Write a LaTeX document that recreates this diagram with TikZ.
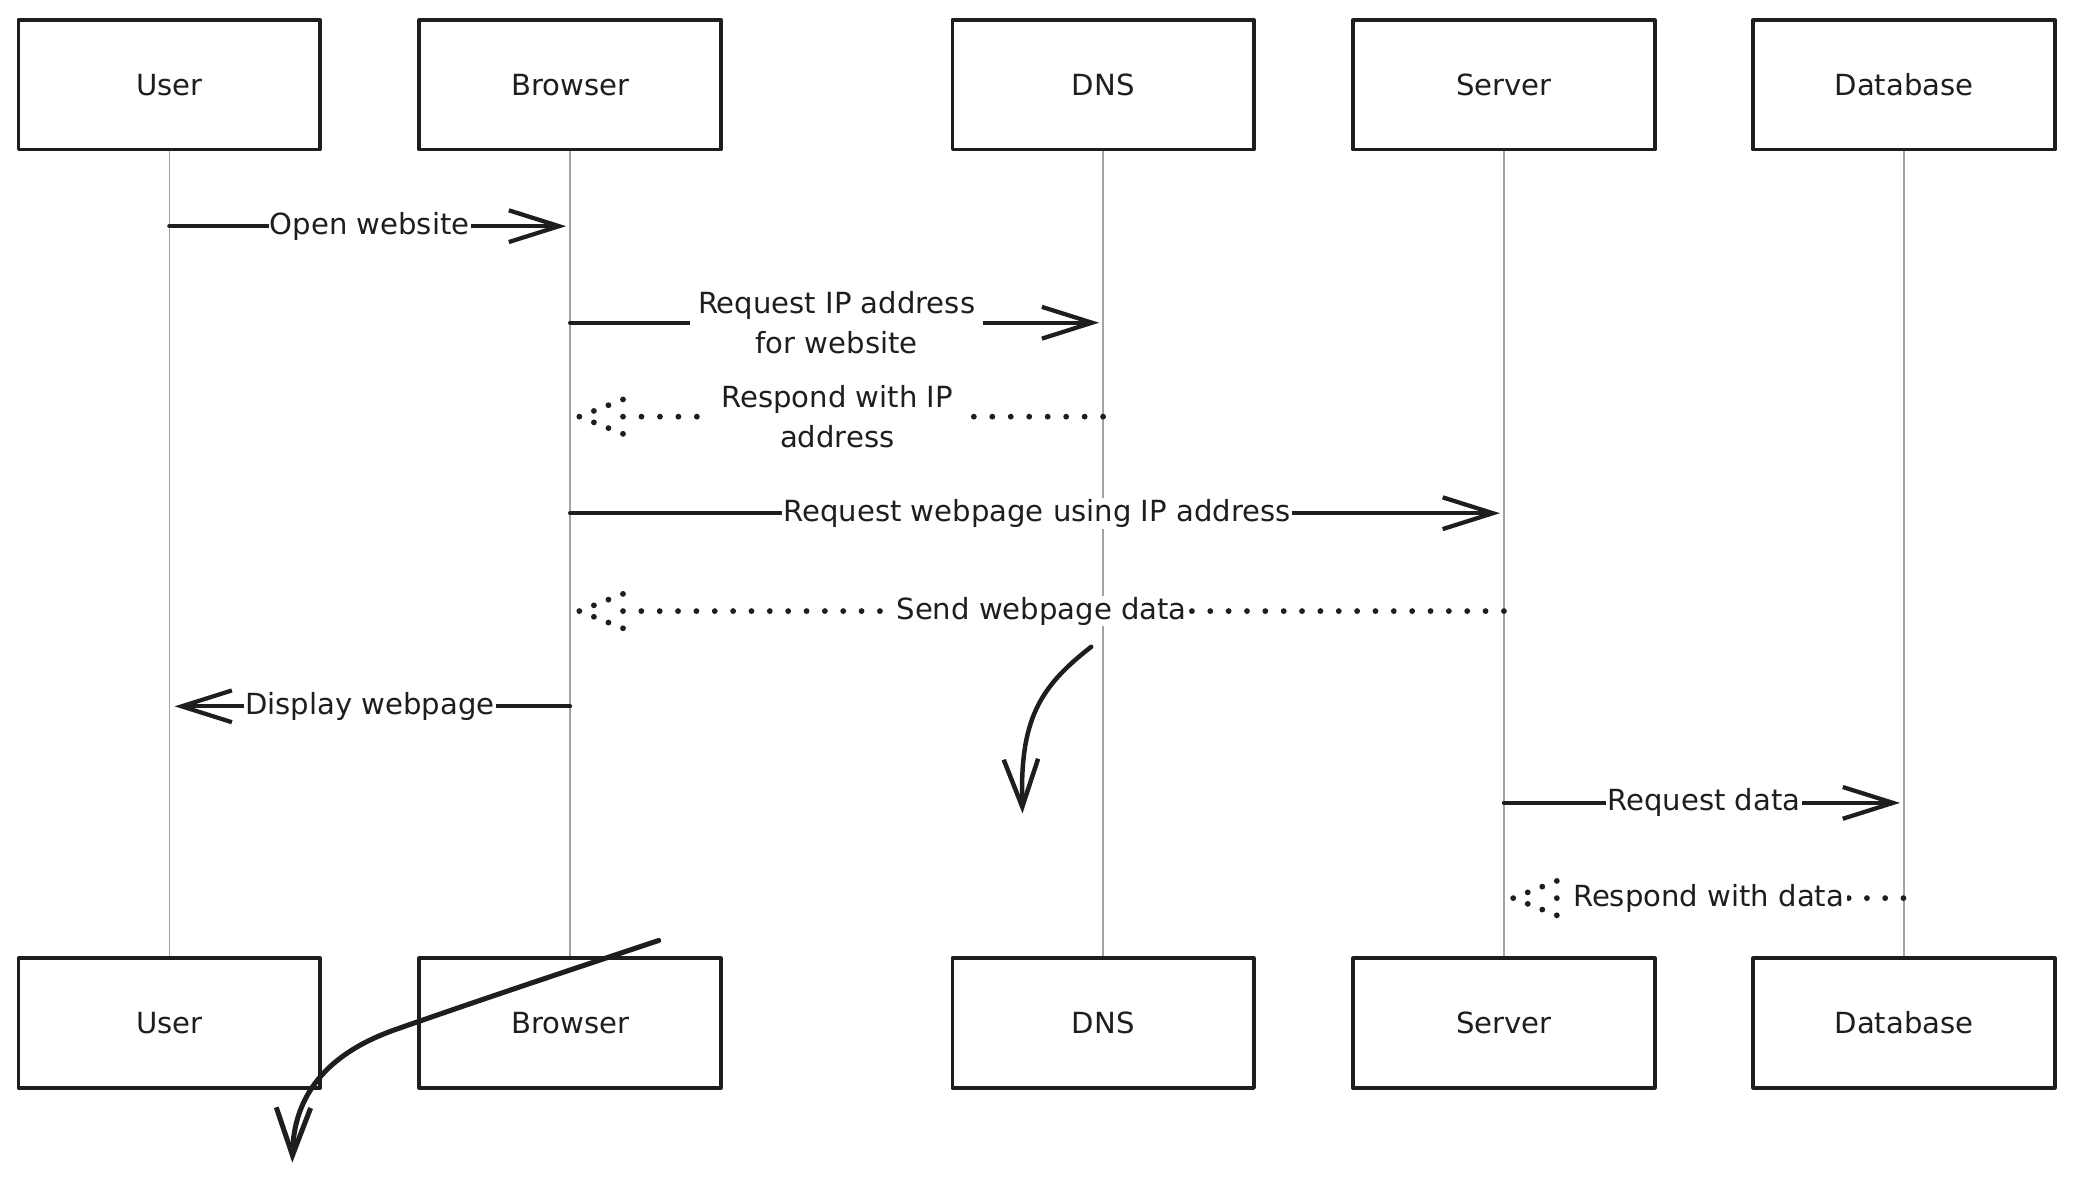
\documentclass[tikz,border=0pt]{standalone}
\usepackage{fontspec}
\setmainfont{DejaVu Sans}
\usetikzlibrary{arrows.meta,calc}
\definecolor{ink}{HTML}{1E1E1E}
\definecolor{lifegray}{HTML}{A3A3A3}
\begin{document}
\begin{tikzpicture}[x=1pt,y=-1pt,
  actor/.style={draw=ink, line width=2.8pt, fill=white, line join=round,
    minimum width=228pt, minimum height=98pt, inner sep=0pt,
    font=\fontsize{22}{30}\selectfont, text=ink},
  life/.style={draw=lifegray, line width=1.1pt},
  msg/.style={draw=ink, line width=3.2pt, line cap=round,
    -{Straight Barb[length=38pt,width=24pt]}},
  dotline/.style={draw=ink, line width=4.4pt, line cap=round,
    dash pattern=on 0pt off #1},
  dotline/.default=14pt,
  dotbarb/.style={draw=ink, line width=4.4pt, line cap=round,
    dash pattern=on 0pt off 11.82pt},
  lbl/.style={fill=white, text=ink, inner xsep=1pt, inner ysep=1pt,
    align=center, font=\fontsize{22}{30}\selectfont},
  stray/.style={draw=ink, line width=3.4pt, line cap=round,
    -{Straight Barb[length=36pt,width=26pt]}}]
\useasboundingbox (0,0) rectangle (1568,893);

% participants, top and bottom rows
\node[actor] (uT)  at (128,64)    {User};
\node[actor] (bT)  at (431,64)    {Browser};
\node[actor] (dT)  at (834,64)    {DNS};
\node[actor] (sT)  at (1137,64)   {Server};
\node[actor] (dbT) at (1439.5,64) {Database};

\node[actor] (uB)  at (128,773.5)    {User};
\node[actor] (bB)  at (431,773.5)    {Browser};
\node[actor] (dB)  at (834,773.5)    {DNS};
\node[actor] (sB)  at (1137,773.5)   {Server};
\node[actor] (dbB) at (1439.5,773.5) {Database};

% lifelines
\foreach \p in {u,b,d,s,db}
  \draw[life] (\p T.south) -- (\p B.north);

% message anchor points on the lifelines
\coordinate (u1)  at (uT.south |- 0,171);
\coordinate (b1)  at (bT.south |- 0,171);
\coordinate (b2)  at (bT.south |- 0,244);
\coordinate (d2)  at (dT.south |- 0,244);
\coordinate (d3)  at (dT.south |- 0,315);
\coordinate (b3)  at ($(bT.south |- 0,315)+(7,0)$);
\coordinate (b4)  at (bT.south |- 0,388);
\coordinate (s4)  at (sT.south |- 0,388);
\coordinate (s5)  at (sT.south |- 0,462);
\coordinate (b5)  at ($(bT.south |- 0,462)+(7,0)$);
\coordinate (b6)  at (bT.south |- 0,534);
\coordinate (u6)  at (uT.south |- 0,534);
\coordinate (s7)  at (sT.south |- 0,607);
\coordinate (db7) at (dbT.south |- 0,607);
\coordinate (db8) at (dbT.south |- 0,679);
\coordinate (s8)  at ($(sT.south |- 0,679)+(7,0)$);

% requests
\draw[msg, shorten >=3pt] (u1) -- node[lbl]{Open website} (b1);
\draw[msg, shorten >=3pt] (b2) -- node[lbl, inner xsep=6pt]{Request IP address\\for website} (d2);
\draw[msg, shorten >=3pt] (b4) -- node[lbl]{Request webpage using IP address} (s4);
\draw[msg, shorten >=4pt] (b6) -- node[lbl]{Display webpage} (u6);
\draw[msg, shorten >=3pt] (s7) -- node[lbl]{Request data} (db7);

% replies (dotted): the dotted shaft starts at the back of a dotted barb head,
% with a dot spacing that puts the last dot on the sender's lifeline
\foreach \t/\f/\gap in {b3/d3/13.96pt, b5/s5/13.875pt, s8/db8/13.79pt}{
  \coordinate (\t a) at ($(\t)+(33,0)$);
  \draw[dotline=\gap] (\t a) -- (\f);
  \draw[dotbarb] (\t) -- ++(33,-13) (\t) -- ++(33,13);
}
\node[lbl, inner xsep=8pt] at ($(b3)!.5!(d3)+(-3,0)$) {Respond with IP\\address};
\node[lbl, inner xsep=2pt] at ($(b5)!.5!(s5)$) {Send webpage data};
\node[lbl, inner xsep=2pt] at ($(s8)!.5!(db8)$) {Respond with data};

% loose curved arrows
\coordinate (c1s) at (825,489);
\coordinate (c1e) at (773,615);
\draw[stray] (c1s) .. controls (785,520) and (771,545) .. (c1e);

\coordinate (c2s) at (498,711);
\coordinate (c2m) at (300,778);
\coordinate (c2e) at (221,879);
\draw[stray, line width=3.8pt] (c2s) .. controls (420,737) and (360,757) .. (c2m)
  .. controls (245,797) and (222,830) .. (c2e);
\end{tikzpicture}
\end{document}
